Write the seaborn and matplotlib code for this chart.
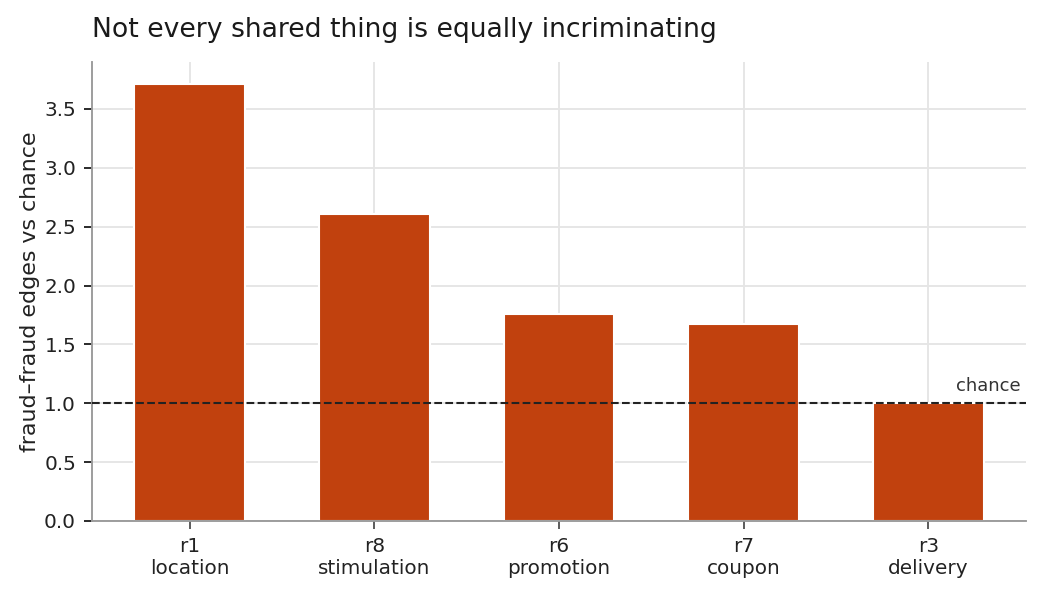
import numpy as np
import matplotlib
matplotlib.use("Agg")
import matplotlib.pyplot as plt
import seaborn as sns
import pandas as pd

relations = ["r1", "r8", "r6", "r7", "r3"]
names = ["location", "stimulation", "promotion", "coupon", "delivery"]
lift = [3.71, 2.61, 1.76, 1.67, 1.00]

sns.set_theme(style="ticks")
plt.rcParams['font.family'] = ['DejaVu Sans']

df = pd.DataFrame({
    "label": [f"{r}\n{n}" for r, n in zip(relations, names)],
    "lift": lift,
})

fig, ax = plt.subplots(figsize=(1042 / 150, 594 / 150), dpi=150)
sns.barplot(data=df, x="label", y="lift", color="#c1410e", saturation=1,
            width=0.6, ax=ax, zorder=2)
ax.set_xlim(-0.53, 4.53)
ax.set_ylim(0, max(lift) * 1.05)

ax.axhline(1.0, color="#222222", linestyle="--", linewidth=1.0, zorder=3)
ax.text(4.5, 1.07, "chance", ha="right", va="bottom", fontsize=8.6, color="#333333")

ax.grid(True, color="#e5e5e5", linewidth=0.9, zorder=0)
ax.set_axisbelow(True)
sns.despine(ax=ax)
for s in ["left", "bottom"]:
    ax.spines[s].set_color("#999999")
    ax.spines[s].set_linewidth(0.9)
ax.tick_params(axis="both", labelsize=9.6, colors="#222222", width=0.9, length=4)
ax.tick_params(axis="x", color="#555555")

ax.set_xlabel("")
ax.set_ylabel("fraud\u2013fraud edges vs chance", fontsize=10.6, color="#222222",
              labelpad=2)
ax.set_title("Not every shared thing is equally incriminating", loc="left",
             fontsize=12.8, color="#1a1a1a", pad=12)

fig.subplots_adjust(left=0.088, right=0.985, top=0.895, bottom=0.123)
fig.savefig("out.png", dpi=150)
